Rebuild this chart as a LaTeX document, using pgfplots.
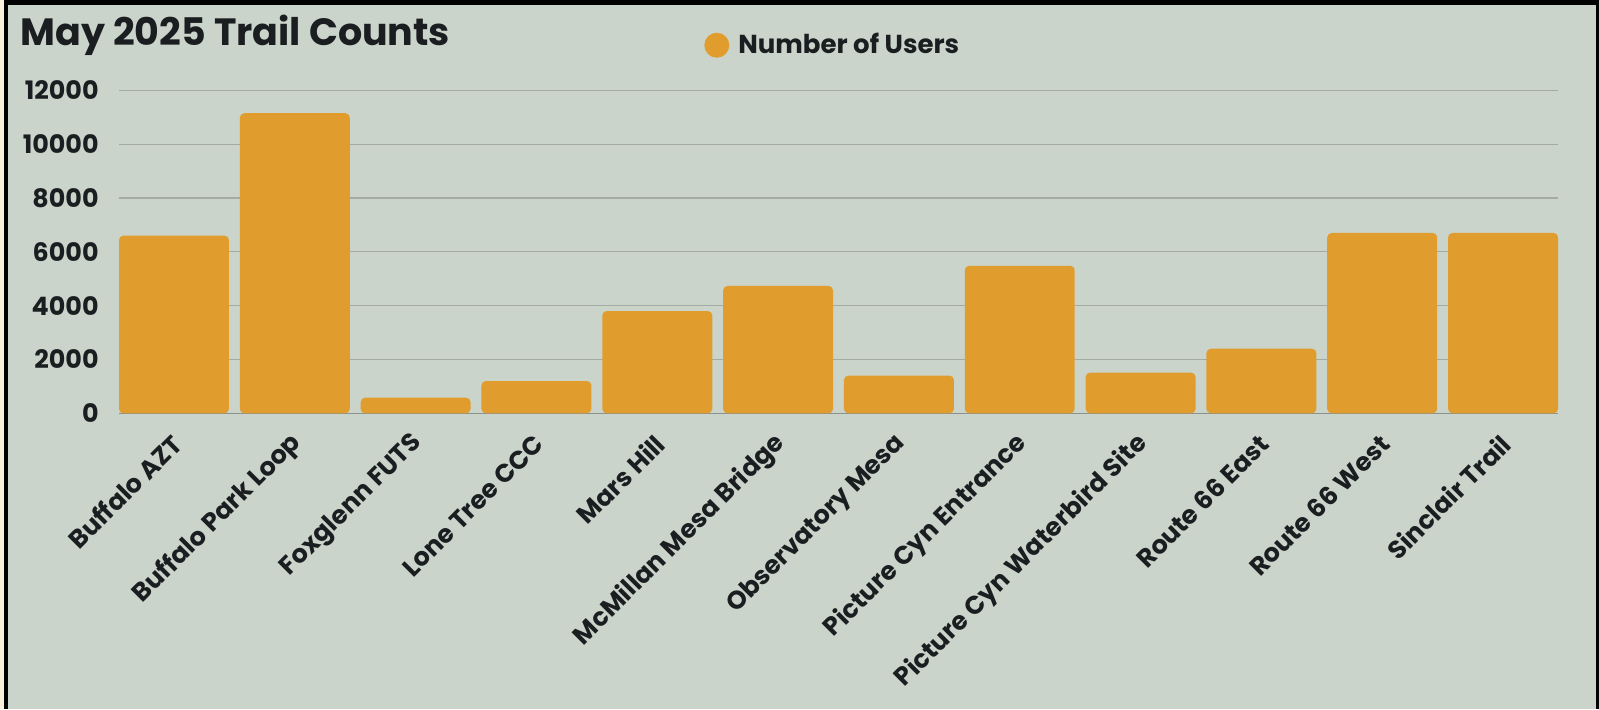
\documentclass[border=0pt]{standalone}
\usepackage{fontspec}
\setmainfont{Poppins}
\usepackage{pgfplots}
\pgfplotsset{compat=1.18}
\definecolor{bg}{HTML}{CAD4CB}
\definecolor{barc}{HTML}{E09D2E}
\definecolor{txt}{HTML}{1B1E20}
\definecolor{gridc}{HTML}{A3ABA3}
\definecolor{cream}{HTML}{FBF0DC}
\begin{document}
\begin{tikzpicture}
\fill[cream] (0pt,0pt) rectangle (799.5pt,354.5pt);
\fill[black] (2pt,0pt) rectangle (799.5pt,354.5pt);
\fill[bg] (4pt,0pt) rectangle (797.75pt,352pt);
\path[use as bounding box] (0pt,0pt) rectangle (799.5pt,354.5pt);
\node[anchor=base west, font=\fontsize{19}{22}\selectfont\bfseries, text=txt, inner sep=0pt] at (10pt,332pt) {May 2025 Trail Counts};
\begin{axis}[
  at={(59.5pt,147.85pt)}, anchor=south west,
  scale only axis, width=719.5pt, height=161.5pt,
  ymin=0, ymax=12000, xmin=-0.455, xmax=11.455,
  ybar, bar width=0.91,
  ytick={0,2000,4000,6000,8000,10000,12000},
  scaled y ticks=false,
  xtick={0,...,11},
  xticklabels={Buffalo AZT, Buffalo Park Loop, Foxglenn FUTS, Lone Tree CCC, Mars Hill, McMillan Mesa Bridge, Observatory Mesa, Picture Cyn Entrance, Picture Cyn Waterbird Site, Route 66 East, Route 66 West, Sinclair Trail},
  ymajorgrids, grid style={draw=gridc, line width=0.6pt},
  axis x line*=bottom, axis y line*=left,
  y axis line style={draw=none},
  x axis line style={draw=gridc!85!black, line width=0.7pt, -},
  major tick length=0pt,
  tick label style={font=\fontsize{12.7}{14}\selectfont\bfseries, text=txt},
  yticklabel style={anchor=east, inner sep=0pt, xshift=-10pt,
    /pgf/number format/1000 sep={}, /pgf/number format/assume math mode=true},
  xticklabel style={inner sep=0pt, yshift=-13pt, xshift=1.5pt, rotate=45, anchor=east},
  legend style={at={(0.4023,1.1396)}, anchor=west, draw=none, fill=none,
    font=\fontsize{13}{15}\selectfont\bfseries, text=txt,
    /tikz/every odd column/.append style={column sep=2.5pt}},
  legend image code/.code={\fill[barc] (6.25pt,0pt) circle (6.25pt);},
]
\addplot[fill=barc, draw=none, rounded corners=2.2pt] coordinates {
  (0,6600) (1,11150) (2,580) (3,1200) (4,3800) (5,4730)
  (6,1400) (7,5480) (8,1510) (9,2400) (10,6700) (11,6700)
};
\addlegendentry{Number of Users}
\end{axis}
\end{tikzpicture}
\end{document}
